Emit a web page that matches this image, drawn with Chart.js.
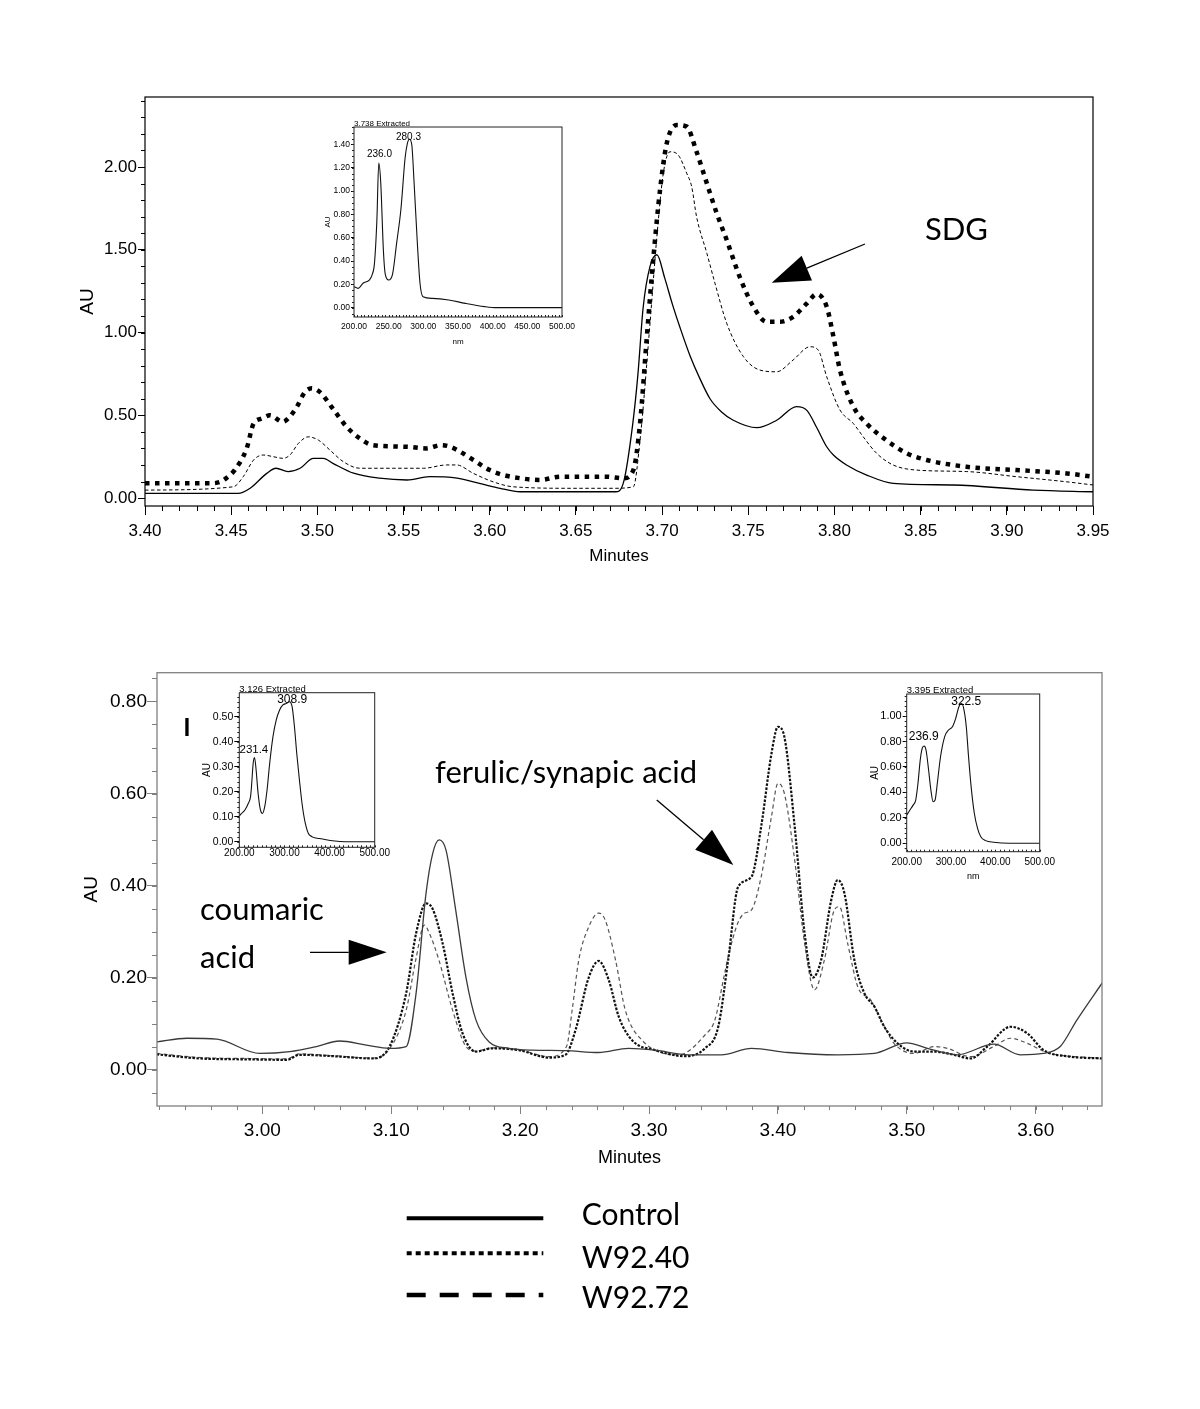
<!DOCTYPE html>
<html>
<head>
<meta charset="utf-8">
<script src="https://cdn.jsdelivr.net/npm/chart.js@4.4.1/dist/chart.umd.min.js"></script>
<style>
  body { margin: 0; background: #fff; width: 1200px; height: 1409px; position: relative; overflow: hidden; }
  .wrap { position: absolute; }
</style>
</head>
<body>
<div class="wrap" style="left:50px;top:80px;width:1070px;height:500px"><canvas id="runA"></canvas></div>
<div class="wrap" style="left:40px;top:650px;width:1110px;height:680px"><canvas id="runB"></canvas></div>
<div class="wrap" style="left:300px;top:112px;width:280px;height:238px"><canvas id="specA"></canvas></div>
<div class="wrap" style="left:190px;top:675px;width:200px;height:190px"><canvas id="specB"></canvas></div>
<div class="wrap" style="left:860px;top:675px;width:200px;height:215px"><canvas id="specC"></canvas></div>
<script>
// series names (legend)
const seriesNames = ['Control', 'W92.40', 'W92.72'];

// ---- run A (SDG region), minutes / AU ----
const aTicksX = [3.40, 3.45, 3.50, 3.55, 3.60, 3.65, 3.70, 3.75, 3.80, 3.85, 3.90, 3.95];
const aTicksY = [0.00, 0.50, 1.00, 1.50, 2.00];

const aCtrlMin = [3.400, 3.454, 3.461, 3.4706, 3.476, 3.483, 3.490, 3.4977, 3.5035, 3.509, 3.521, 3.536, 3.552, 3.565, 3.581, 3.594, 3.606, 3.6176, 3.673, 3.6775, 3.683, 3.686, 3.689, 3.693, 3.697, 3.7015, 3.706, 3.7104, 3.7162, 3.722, 3.7278, 3.7345, 3.7413, 3.7549, 3.7665, 3.778, 3.784, 3.790, 3.7955, 3.7994, 3.807, 3.8187, 3.834, 3.869, 3.9154, 3.950];
const aCtrlAU = [0.028, 0.028, 0.059, 0.149, 0.18, 0.16, 0.18, 0.24, 0.24, 0.21, 0.15, 0.12, 0.109, 0.129, 0.12, 0.089, 0.059, 0.038, 0.038, 0.09, 0.45, 0.75, 1.15, 1.40, 1.47, 1.33, 1.17, 1.03, 0.86, 0.72, 0.60, 0.52, 0.47, 0.425, 0.47, 0.552, 0.53, 0.42, 0.31, 0.26, 0.20, 0.139, 0.089, 0.079, 0.048, 0.038];

const a40Min = [3.400, 3.4377, 3.4435, 3.447, 3.452, 3.459, 3.463, 3.4677, 3.4725, 3.480, 3.483, 3.488, 3.4928, 3.4967, 3.5015, 3.509, 3.517, 3.5247, 3.532, 3.5518, 3.563, 3.572, 3.577, 3.5828, 3.5905, 3.600, 3.608, 3.6176, 3.629, 3.641, 3.668, 3.6775, 3.6833, 3.6872, 3.691, 3.695, 3.6988, 3.7027, 3.7085, 3.7143, 3.720, 3.726, 3.7317, 3.7375, 3.745, 3.753, 3.7607, 3.7684, 3.776, 3.784, 3.7897, 3.7955, 3.7994, 3.8032, 3.811, 3.8187, 3.830, 3.842, 3.8535, 3.8767, 3.9057, 3.9348, 3.950];
const a40AU = [0.089, 0.089, 0.097, 0.119, 0.169, 0.30, 0.45, 0.48, 0.50, 0.46, 0.48, 0.55, 0.64, 0.663, 0.64, 0.54, 0.43, 0.36, 0.32, 0.31, 0.30, 0.32, 0.31, 0.28, 0.23, 0.169, 0.139, 0.12, 0.109, 0.129, 0.129, 0.119, 0.169, 0.45, 0.955, 1.458, 1.861, 2.143, 2.254, 2.244, 2.092, 1.90, 1.72, 1.559, 1.337, 1.156, 1.065, 1.065, 1.095, 1.176, 1.232, 1.156, 0.975, 0.773, 0.552, 0.45, 0.35, 0.27, 0.23, 0.189, 0.169, 0.149, 0.129];

const a72Min = [3.400, 3.4512, 3.457, 3.463, 3.4686, 3.4744, 3.480, 3.4841, 3.489, 3.4947, 3.5006, 3.5073, 3.515, 3.5247, 3.544, 3.5615, 3.575, 3.5808, 3.5905, 3.602, 3.6137, 3.6485, 3.6717, 3.6833, 3.6872, 3.693, 3.6968, 3.7007, 3.7046, 3.7094, 3.7143, 3.7172, 3.720, 3.726, 3.7307, 3.7375, 3.7472, 3.7568, 3.7665, 3.776, 3.7858, 3.7906, 3.7955, 3.8032, 3.811, 3.8167, 3.8245, 3.834, 3.8477, 3.8767, 3.9057, 3.9348, 3.950];
const a72AU = [0.048, 0.068, 0.129, 0.23, 0.26, 0.25, 0.24, 0.26, 0.33, 0.37, 0.35, 0.29, 0.22, 0.18, 0.18, 0.18, 0.20, 0.20, 0.149, 0.098, 0.068, 0.059, 0.059, 0.068, 0.35, 1.056, 1.559, 1.962, 2.092, 2.072, 1.962, 1.88, 1.70, 1.478, 1.297, 1.056, 0.854, 0.773, 0.763, 0.834, 0.914, 0.894, 0.733, 0.532, 0.45, 0.37, 0.27, 0.20, 0.169, 0.16, 0.129, 0.098, 0.079];

// ---- run B (phenolic acids), minutes / AU ----
const bTicksX = [3.00, 3.10, 3.20, 3.30, 3.40, 3.50, 3.60];
const bTicksY = [0.00, 0.20, 0.40, 0.60, 0.80];

const bCtrlMin = [2.918, 2.9416, 2.9648, 2.998, 3.0214, 3.042, 3.060, 3.0807, 3.0987, 3.1116, 3.1193, 3.127, 3.1322, 3.1373, 3.1425, 3.150, 3.158, 3.1657, 3.176, 3.1914, 3.2094, 3.235, 3.261, 3.284, 3.3048, 3.3305, 3.356, 3.3795, 3.4078, 3.4464, 3.4748, 3.500, 3.516, 3.539, 3.5675, 3.588, 3.606, 3.619, 3.632, 3.652];
const bCtrlAU = [0.060, 0.068, 0.066, 0.035, 0.039, 0.050, 0.062, 0.053, 0.046, 0.05, 0.166, 0.383, 0.47, 0.499, 0.477, 0.347, 0.20, 0.108, 0.06, 0.046, 0.042, 0.041, 0.037, 0.046, 0.042, 0.032, 0.032, 0.046, 0.037, 0.032, 0.035, 0.058, 0.046, 0.032, 0.055, 0.032, 0.035, 0.050, 0.108, 0.19];

const b40Min = [2.918, 2.9519, 2.9905, 3.0189, 3.029, 3.055, 3.0858, 3.0987, 3.1116, 3.1193, 3.127, 3.132, 3.1399, 3.1476, 3.1553, 3.1657, 3.1785, 3.1991, 3.2223, 3.2352, 3.243, 3.2532, 3.261, 3.2687, 3.2765, 3.2867, 3.305, 3.328, 3.3434, 3.3537, 3.3614, 3.3691, 3.3795, 3.387, 3.395, 3.400, 3.405, 3.413, 3.4207, 3.427, 3.4335, 3.4413, 3.4464, 3.4516, 3.4593, 3.467, 3.4748, 3.4825, 3.4928, 3.5057, 3.5212, 3.5367, 3.5495, 3.5624, 3.5804, 3.5933, 3.6062, 3.6268, 3.652];
const b40AU = [0.033, 0.024, 0.022, 0.021, 0.032, 0.029, 0.024, 0.05, 0.166, 0.296, 0.361, 0.35, 0.274, 0.166, 0.079, 0.039, 0.046, 0.042, 0.026, 0.032, 0.086, 0.20, 0.236, 0.195, 0.115, 0.064, 0.042, 0.029, 0.046, 0.093, 0.238, 0.397, 0.419, 0.528, 0.687, 0.745, 0.723, 0.528, 0.296, 0.20, 0.238, 0.368, 0.412, 0.383, 0.238, 0.166, 0.137, 0.093, 0.057, 0.039, 0.039, 0.032, 0.024, 0.05, 0.093, 0.079, 0.042, 0.028, 0.024];

const b72Min = [2.918, 2.9519, 2.9905, 3.0189, 3.029, 3.055, 3.0858, 3.0987, 3.1116, 3.119, 3.1257, 3.1296, 3.137, 3.1476, 3.158, 3.1657, 3.1785, 3.1991, 3.2223, 3.236, 3.2404, 3.2455, 3.2532, 3.261, 3.266, 3.274, 3.2816, 3.2945, 3.3228, 3.3434, 3.3511, 3.358, 3.3614, 3.3691, 3.3743, 3.3795, 3.387, 3.395, 3.400, 3.405, 3.413, 3.4207, 3.4284, 3.436, 3.4438, 3.4477, 3.4541, 3.4619, 3.472, 3.480, 3.490, 3.5057, 3.5212, 3.5315, 3.5495, 3.5675, 3.5804, 3.5933, 3.609, 3.652];
const b72AU = [0.035, 0.026, 0.024, 0.023, 0.034, 0.030, 0.025, 0.045, 0.129, 0.238, 0.314, 0.296, 0.238, 0.129, 0.05, 0.040, 0.047, 0.043, 0.028, 0.05, 0.13, 0.238, 0.31, 0.34, 0.325, 0.238, 0.129, 0.064, 0.032, 0.075, 0.108, 0.20, 0.245, 0.32, 0.34, 0.347, 0.419, 0.55, 0.622, 0.60, 0.455, 0.274, 0.173, 0.238, 0.347, 0.354, 0.274, 0.18, 0.151, 0.108, 0.057, 0.035, 0.05, 0.046, 0.028, 0.05, 0.068, 0.057, 0.037, 0.024];

// ---- extracted UV spectra (insets), nm / AU ----
const specTicksNm50 = [200, 250, 300, 350, 400, 450, 500];
const specTicksNm100 = [200, 300, 400, 500];

const s1Nm = [200, 206, 213, 222, 226, 229.5, 233, 235.7, 238.6, 242.4, 245, 250, 255.7, 261.4, 267.6, 273.8, 277, 280, 283.3, 286.7, 291.4, 295.2, 299.5, 312.9, 336.7, 360.5, 388.6, 405.7, 500];
const s1AU = [0.18, 0.166, 0.21, 0.237, 0.28, 0.38, 0.75, 1.24, 1.07, 0.49, 0.29, 0.237, 0.29, 0.55, 0.84, 1.29, 1.41, 1.445, 1.40, 1.07, 0.55, 0.21, 0.094, 0.08, 0.066, 0.037, 0.009, 0.0, 0.0];
const s1TicksY = [0.00, 0.20, 0.40, 0.60, 0.80, 1.00, 1.20, 1.40];
const s1Peaks = ['236.0', '280.3'];

const s2Nm = [200, 205, 212.4, 219.8, 224.9, 227, 230.7, 233.7, 236.6, 241.7, 246.8, 251.2, 256.3, 261.5, 267.3, 274.6, 281.9, 289.3, 296.6, 303.9, 311.2, 317, 322.2, 327.3, 333.2, 339, 346.3, 355.1, 377, 406.3, 435.6, 500];
const s2AU = [0.103, 0.113, 0.127, 0.153, 0.18, 0.22, 0.313, 0.337, 0.30, 0.193, 0.127, 0.113, 0.14, 0.207, 0.313, 0.42, 0.487, 0.527, 0.547, 0.553, 0.56, 0.54, 0.46, 0.353, 0.247, 0.153, 0.073, 0.027, 0.013, 0.004, 0, 0];
const s2TicksY = [0.00, 0.10, 0.20, 0.30, 0.40, 0.50];
const s2Peaks = ['231.4', '308.9'];

const s3Nm = [200, 207.3, 214.5, 220.3, 225.4, 230.5, 234.9, 239.2, 243.6, 249.4, 254.5, 259.6, 264, 269, 276.3, 285.7, 294.4, 303.1, 310.4, 317.7, 323.5, 329.3, 334.4, 339.5, 345.3, 352.5, 359.8, 367.1, 378, 396, 432, 500];
const s3AU = [0.222, 0.262, 0.30, 0.34, 0.47, 0.654, 0.746, 0.764, 0.733, 0.576, 0.419, 0.327, 0.34, 0.47, 0.68, 0.838, 0.89, 0.916, 0.98, 1.073, 1.10, 1.047, 0.916, 0.68, 0.445, 0.236, 0.118, 0.052, 0.021, 0.008, 0, 0];
const s3TicksY = [0.00, 0.20, 0.40, 0.60, 0.80, 1.00];
const s3Peaks = ['236.9', '322.5'];

const SANS = "'Liberation Sans', Arial, sans-serif";
const NOTE = "Lato, 'Noto Sans', sans-serif";
Chart.defaults.font.family = SANS;
Chart.defaults.color = '#000';

// ---------- small plugins ----------
// box round the plot area
const frame = {
  id: 'frame',
  afterDatasetsDraw(chart, args, o) {
    const {ctx, chartArea: a} = chart;
    ctx.save();
    ctx.strokeStyle = o.color || '#000';
    ctx.lineWidth = o.width || 1;
    ctx.strokeRect(a.left, a.top, a.right - a.left, a.bottom - a.top);
    ctx.restore();
  }
};

// unlabelled minor tick marks
const minorTicks = {
  id: 'minorTicks',
  afterDraw(chart, args, o) {
    const {ctx, chartArea: a} = chart;
    ctx.save();
    ctx.strokeStyle = o.color || '#000';
    ctx.lineWidth = 1;
    ['x', 'y'].forEach(id => {
      const m = o[id];
      if (!m) return;
      const s = chart.scales[id];
      const dir = m.inward ? -1 : 1;
      const first = Math.ceil(s.min / m.step - 1e-6);
      const last = Math.floor(s.max / m.step + 1e-6);
      ctx.beginPath();
      for (let k = first; k <= last; k++) {
        const p = Math.round(s.getPixelForValue(k * m.step)) + 0.5;
        if (id === 'x') { ctx.moveTo(p, a.bottom); ctx.lineTo(p, a.bottom + dir * m.len); }
        else { ctx.moveTo(a.left, p); ctx.lineTo(a.left - dir * m.len, p); }
      }
      ctx.stroke();
    });
    ctx.restore();
  }
};

// texts and arrows placed in data units
const notes = {
  id: 'notes',
  afterDraw(chart, args, o) {
    const {ctx, chartArea: a, scales: {x, y}} = chart;
    ctx.save();
    if (o.caption) {
      ctx.font = o.captionFont;
      ctx.textAlign = 'left';
      ctx.textBaseline = 'bottom';
      ctx.fillStyle = '#000';
      ctx.fillText(o.caption, a.left, a.top + 1);
    }
    (o.items || []).forEach(it => {
      ctx.fillStyle = '#000';
      ctx.strokeStyle = '#000';
      if (it.text !== undefined) {
        ctx.font = it.font;
        ctx.textAlign = it.align || 'left';
        ctx.textBaseline = it.baseline || 'alphabetic';
        ctx.fillText(it.text, x.getPixelForValue(it.at[0]), y.getPixelForValue(it.at[1]));
      } else if (it.from) {
        const x1 = x.getPixelForValue(it.from[0]), y1 = y.getPixelForValue(it.from[1]);
        const x2 = x.getPixelForValue(it.to[0]), y2 = y.getPixelForValue(it.to[1]);
        const ang = Math.atan2(y2 - y1, x2 - x1);
        const bx = x2 - Math.cos(ang) * it.head, by = y2 - Math.sin(ang) * it.head;
        ctx.lineWidth = 1.3;
        ctx.beginPath(); ctx.moveTo(x1, y1); ctx.lineTo(bx, by); ctx.stroke();
        ctx.beginPath();
        ctx.moveTo(x2, y2);
        ctx.lineTo(bx + Math.sin(ang) * it.half, by - Math.cos(ang) * it.half);
        ctx.lineTo(bx - Math.sin(ang) * it.half, by + Math.cos(ang) * it.half);
        ctx.closePath(); ctx.fill();
      }
    });
    ctx.restore();
  }
};

// line-style key under the lower chart
const keyRows = {
  id: 'keyRows',
  afterDraw(chart, args, o) {
    if (!o.rows) return;
    const ctx = chart.ctx;
    ctx.save();
    ctx.font = o.font;
    ctx.fillStyle = '#000';
    ctx.strokeStyle = '#000';
    ctx.textAlign = 'left';
    ctx.textBaseline = 'alphabetic';
    ctx.lineCap = 'butt';
    o.rows.forEach(r => {
      ctx.beginPath();
      ctx.setLineDash(r.dash);
      ctx.lineWidth = r.width;
      ctx.moveTo(o.x0, r.lineY); ctx.lineTo(o.x1, r.lineY);
      ctx.stroke();
      ctx.fillText(r.label, o.textX, r.textY);
    });
    ctx.restore();
  }
};

// ---------- helpers ----------
const pts = (xs, ys) => xs.map((v, i) => ({x: v, y: ys[i]}));

function trace(label, xs, ys, style) {
  return Object.assign({
    label: label,
    data: pts(xs, ys),
    pointRadius: 0,
    fill: false,
    cubicInterpolationMode: 'monotone',
    borderCapStyle: 'butt',
    borderJoinStyle: 'round'
  }, style);
}

function axis(min, max, tickVals, o) {
  return {
    type: 'linear',
    bounds: 'data',
    min: min,
    max: max,
    afterBuildTicks: s => { s.ticks = tickVals.map(v => ({value: v})); },
    afterFit: s => { if (o.width) s.width = o.width; if (o.height) s.height = o.height; },
    border: {display: false},
    grid: {drawOnChartArea: false, drawTicks: o.tickLength > 0, tickLength: o.tickLength || 0, color: o.color || '#000'},
    ticks: {
      autoSkip: false, maxRotation: 0, padding: o.pad,
      font: {size: o.size, family: SANS}, color: '#000',
      callback: v => v.toFixed(2)
    },
    title: o.title ? {display: true, text: o.title, font: {size: o.titleSize, family: SANS}, color: '#000', padding: o.titlePad} : {display: false}
  };
}

const base = {
  responsive: true,
  maintainAspectRatio: false,
  animation: false,
  events: []
};

// ---------- run A ----------
new Chart(document.getElementById('runA'), {
  type: 'line',
  data: {
    datasets: [
      trace(seriesNames[0], aCtrlMin, aCtrlAU, {borderColor: '#000', borderWidth: 1.3}),
      trace(seriesNames[1], a40Min, a40AU, {borderColor: '#000', borderWidth: 4.5, borderDash: [4.5, 5.5]}),
      trace(seriesNames[2], a72Min, a72AU, {borderColor: '#000', borderWidth: 1, borderDash: [3.5, 2.5]})
    ]
  },
  options: Object.assign({}, base, {
    layout: {padding: {top: 17, right: 27, left: 0, bottom: 0}},
    plugins: {
      legend: {display: false},
      tooltip: {enabled: false},
      frame: {color: '#000', width: 1.2},
      minorTicks: {color: '#000', x: {step: 0.01, len: 5}, y: {step: 0.1, len: 4}},
      notes: {
        items: [
          {text: 'SDG', at: [3.8525, 1.559], font: '31px ' + NOTE},
          {from: [3.8177, 1.535], to: [3.7636, 1.301], head: 38, half: 13.5}
        ]
      }
    },
    scales: {
      x: axis(3.40, 3.95, aTicksX, {height: 74, tickLength: 9, pad: 6, size: 17, title: 'Minutes', titleSize: 17, titlePad: {top: 0, bottom: 13}}),
      y: axis(-0.048, 2.423, aTicksY, {width: 95, tickLength: 7, pad: 1, size: 17, title: 'AU', titleSize: 19, titlePad: {top: 26.6, bottom: 0}})
    }
  }),
  plugins: [frame, minorTicks, notes]
});

// ---------- run B ----------
const GREY = '#808080';
new Chart(document.getElementById('runB'), {
  type: 'line',
  data: {
    datasets: [
      trace(seriesNames[0], bCtrlMin, bCtrlAU, {borderColor: '#3a3a3a', borderWidth: 1.3}),
      trace(seriesNames[1], b40Min, b40AU, {borderColor: '#111', borderWidth: 2.2, borderDash: [2.5, 1.5]}),
      trace(seriesNames[2], b72Min, b72AU, {borderColor: '#555', borderWidth: 1.2, borderDash: [4, 3]})
    ]
  },
  options: Object.assign({}, base, {
    layout: {padding: {top: 22.7, right: 48, left: 0, bottom: 140}},
    plugins: {
      legend: {display: false},
      tooltip: {enabled: false},
      frame: {color: GREY, width: 1.3},
      minorTicks: {color: GREY, x: {step: 0.02, len: 4}, y: {step: 0.05, len: 5}},
      notes: {
        items: [
          {text: 'I', at: [2.9416, 0.725], font: 'bold 25px ' + NOTE, align: 'center'},
          {text: 'ferulic/synapic acid', at: [3.134, 0.6228], font: '31px ' + NOTE},
          {text: 'coumaric', at: [2.9517, 0.325], font: '31px ' + NOTE},
          {text: 'acid', at: [2.9517, 0.2207], font: '31px ' + NOTE},
          {from: [3.037, 0.2548], to: [3.0965, 0.2548], head: 38, half: 12.5},
          {from: [3.306, 0.5859], to: [3.3654, 0.4446], head: 39, half: 13}
        ]
      },
      keyRows: {
        font: '30px ' + NOTE,
        x0: 366.7, x1: 503.3, textX: 541.7,
        rows: [
          {label: seriesNames[0], lineY: 568.3, textY: 575, width: 4, dash: []},
          {label: seriesNames[1], lineY: 603.3, textY: 618.3, width: 4, dash: [5, 4]},
          {label: seriesNames[2], lineY: 645, textY: 658.3, width: 4.5, dash: [19, 14]}
        ]
      }
    },
    scales: {
      x: axis(2.9183, 3.6514, bTicksX, {height: 84, tickLength: 8, pad: 5, size: 19, color: GREY, title: 'Minutes', titleSize: 18, titlePad: {top: 0, bottom: 21}}),
      y: axis(-0.0793, 0.8626, bTicksY, {width: 117, tickLength: 10, pad: 0, size: 19, color: GREY, title: 'AU', titleSize: 19, titlePad: {top: 40.3, bottom: 0}})
    }
  }),
  plugins: [frame, minorTicks, notes, keyRows]
});

// ---------- inset spectra ----------
function spectrum(id, nm, au, o) {
  return new Chart(document.getElementById(id), {
    type: 'line',
    data: {datasets: [trace('spectrum', nm, au, {borderColor: '#111', borderWidth: 1.1, cubicInterpolationMode: 'monotone'})]},
    options: Object.assign({}, base, {
      layout: {padding: o.padding},
      plugins: {
        legend: {display: false},
        tooltip: {enabled: false},
        frame: {color: '#222', width: 1},
        minorTicks: {color: '#222', x: {step: o.minorX, len: 2, inward: true}, y: {step: o.minorY, len: 2}},
        notes: {caption: o.caption, captionFont: o.captionFont, items: o.peaks}
      },
      scales: {
        x: axis(200, 500, o.ticksX, {height: o.xHeight, tickLength: 0, pad: o.xPad, size: o.xSize, title: o.xTitle, titleSize: o.xTitleSize, titlePad: {top: 0, bottom: o.xTitlePad}}),
        y: axis(o.yMin, o.yMax, o.ticksY, {width: o.yWidth, tickLength: o.yTick, pad: 1, size: o.ySize, title: 'AU', titleSize: o.yTitleSize, titlePad: {top: o.yTitlePad, bottom: 0}})
      }
    }),
    plugins: [frame, minorTicks, notes]
  });
}

spectrum('specA', s1Nm, s1AU, {
  padding: {top: 15, right: 16, left: 0, bottom: 0},
  caption: '3.738 Extracted', captionFont: '8px ' + SANS,
  peaks: [
    {text: s1Peaks[0], at: [236.7, 1.314], font: '10px ' + SANS, align: 'center', baseline: 'middle'},
    {text: s1Peaks[1], at: [278.6, 1.465], font: '10px ' + SANS, align: 'center', baseline: 'middle'}
  ],
  ticksX: specTicksNm50, xHeight: 33, xPad: 5, xSize: 8.5, xTitle: 'nm', xTitleSize: 8, xTitlePad: 3,
  yMin: -0.08, yMax: 1.55, ticksY: s1TicksY, yWidth: 54, yTick: 3, ySize: 8.5, yTitleSize: 8, yTitlePad: 23,
  minorX: 5, minorY: 0.05
});

spectrum('specB', s2Nm, s2AU, {
  padding: {top: 17.7, right: 14, left: 0, bottom: 0},
  caption: '3.126 Extracted', captionFont: '9.5px ' + SANS,
  peaks: [
    {text: s2Peaks[0], at: [232.3, 0.367], font: '11.5px ' + SANS, align: 'center', baseline: 'middle'},
    {text: s2Peaks[1], at: [317.2, 0.57], font: '12px ' + SANS, align: 'center', baseline: 'middle'}
  ],
  ticksX: specTicksNm100, xHeight: 17.7, xPad: 0, xSize: 10, xTitle: null,
  yMin: -0.0224, yMax: 0.596, ticksY: s2TicksY, yWidth: 49.3, yTick: 5, ySize: 10.5, yTitleSize: 10, yTitlePad: 11,
  minorX: 10, minorY: 0.02
});

spectrum('specC', s3Nm, s3AU, {
  padding: {top: 19, right: 15.7, left: 0, bottom: 0},
  caption: '3.395 Extracted', captionFont: '9.5px ' + SANS,
  peaks: [
    {text: s3Peaks[0], at: [238.4, 0.837], font: '12px ' + SANS, align: 'center', baseline: 'middle'},
    {text: s3Peaks[1], at: [334.3, 1.112], font: '12px ' + SANS, align: 'center', baseline: 'middle'}
  ],
  ticksX: specTicksNm100, xHeight: 38.3, xPad: 5, xSize: 10, xTitle: 'nm', xTitleSize: 9, xTitlePad: 8,
  yMin: -0.066, yMax: 1.173, ticksY: s3TicksY, yWidth: 46.7, yTick: 4, ySize: 11, yTitleSize: 10, yTitlePad: 9,
  minorX: 10, minorY: 0.04
});
</script>
</body>
</html>
